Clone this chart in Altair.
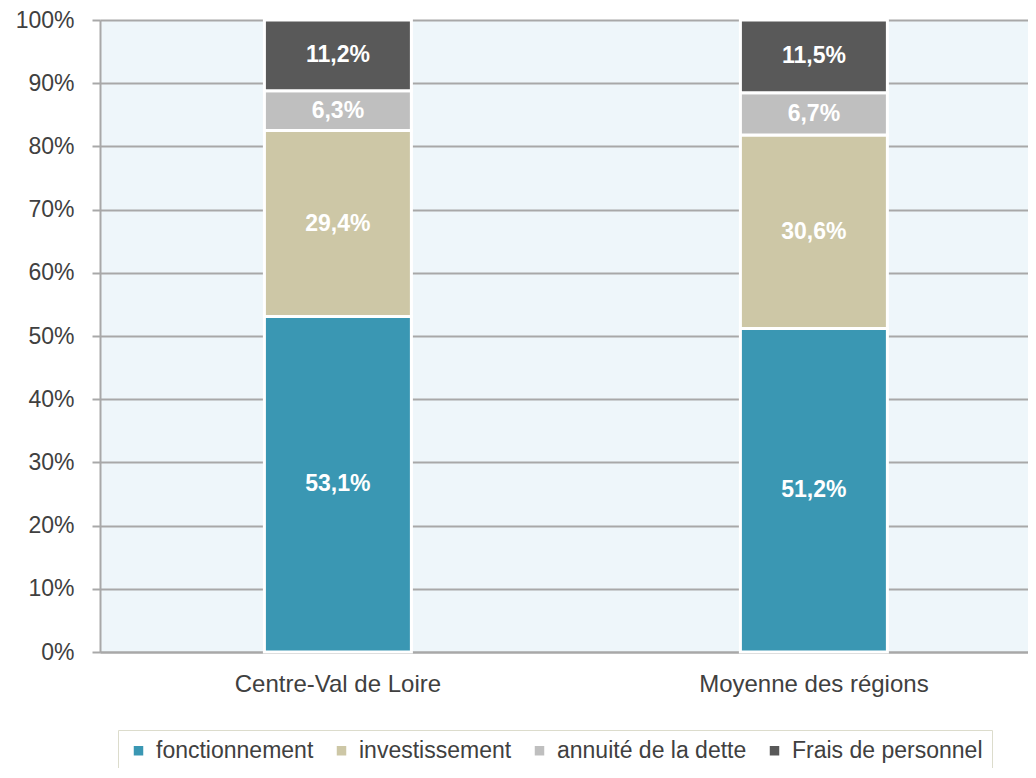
import altair as alt
import pandas as pd

regions = ["Centre-Val de Loire", "Moyenne des régions"]
categories = ["fonctionnement", "investissement", "annuité de la dette", "Frais de personnel"]
cvl_values = [53.1, 29.4, 6.3, 11.2]
moy_values = [51.2, 30.6, 6.7, 11.5]
colors = ["#3a97b3", "#cdc7a6", "#bfbfbf", "#595959"]
y_ticks = [0, 10, 20, 30, 40, 50, 60, 70, 80, 90, 100]

rows = []
for r, vals in zip(regions, [cvl_values, moy_values]):
    for i, (c, v) in enumerate(zip(categories, vals)):
        rows.append({"region": r, "cat": c, "order": i, "value": v,
                     "label": f"{v:.1f}%".replace(".", ",")})
df = pd.DataFrame(rows)

FONT = "Liberation Sans"
GRID = "#a8a8a8"

xenc = alt.X("region:N", sort=regions,
             scale=alt.Scale(paddingInner=0.6912, paddingOuter=0.3204, align=0.539),
             axis=alt.Axis(title=None, labelAngle=0, ticks=False, domain=True,
                           domainColor=GRID, domainWidth=2, labelFontSize=24,
                           labelFont=FONT, labelColor="#404040", labelPadding=20,
                           labelLimit=500))

base = alt.Chart(df).transform_stack(
    stack="value", groupby=["region"], as_=["y0", "y1"],
    sort=[alt.SortField("order", order="ascending")]
).transform_calculate(mid="(datum.y0 + datum.y1) / 2")

bars = base.mark_bar(stroke="white", strokeWidth=3).encode(
    x=xenc,
    y=alt.Y("y0:Q", scale=alt.Scale(domain=[0, 100], nice=False),
            axis=alt.Axis(title=None, values=y_ticks, labelExpr="datum.value + '%'",
                          grid=True, gridColor=GRID, gridWidth=2,
                          domainColor=GRID, domainWidth=2, tickColor=GRID, tickWidth=2,
                          tickSize=8, labelFontSize=23, labelFont=FONT,
                          labelColor="#404040", labelPadding=18)),
    y2="y1:Q",
    color=alt.Color("cat:N", scale=alt.Scale(domain=categories, range=colors),
                    legend=alt.Legend(orient="none", legendX=18, legendY=710,
                                      direction="horizontal", title=None,
                                      symbolType="square", symbolSize=90,
                                      symbolStrokeWidth=0,
                                      labelFontSize=23, labelFont=FONT,
                                      labelColor="#404040", strokeColor="#dcdccc",
                                      fillColor="white", padding=9,
                                      columnPadding=16, labelOffset=6, labelLimit=400)),
    order=alt.Order("order:Q"),
)

text = base.mark_text(color="white", fontWeight="bold", fontSize=23, font=FONT,
                      baseline="middle").encode(
    x=alt.X("region:N", sort=regions),
    y=alt.Y("mid:Q"),
    text="label:N",
)

chart = alt.layer(bars, text).properties(
    width=928, height=632,
    autosize=alt.AutoSizeParams(type="none"),
    padding={"left": 92, "top": 12, "right": 0, "bottom": 116},
    view=alt.ViewBackground(fill="#eef6fa", stroke=None),
).configure(background="white")

chart.save("out.html", embed_options={"renderer": "svg", "actions": False})
